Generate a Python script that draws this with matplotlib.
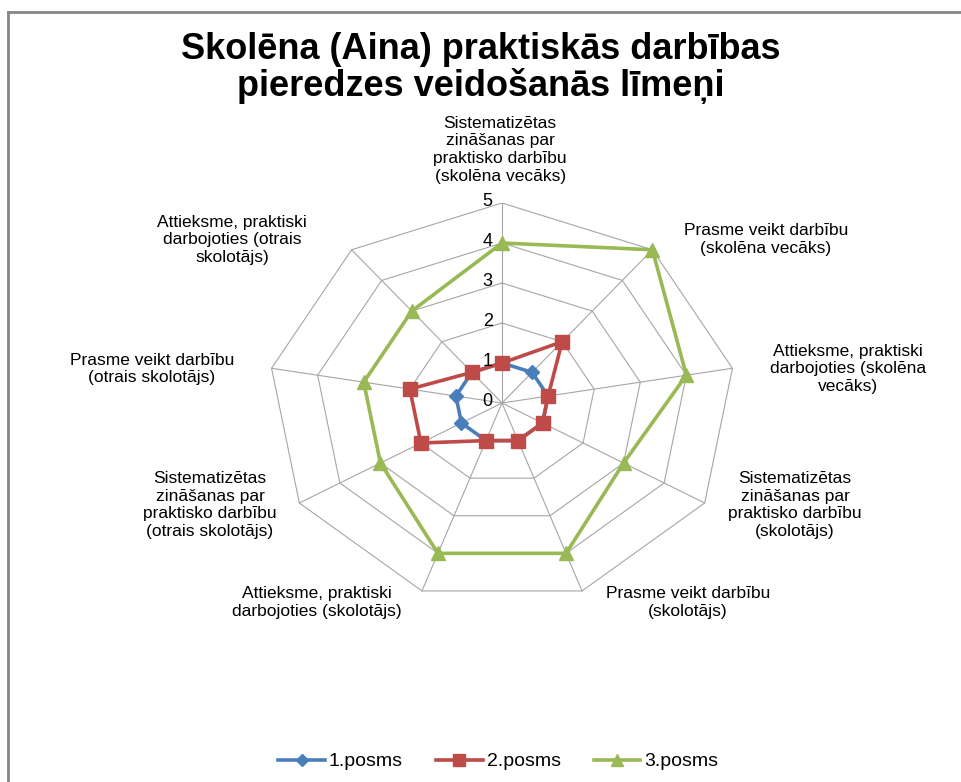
import numpy as np
import matplotlib
matplotlib.use("Agg")
import matplotlib.pyplot as plt
from matplotlib.lines import Line2D

plt.rcParams['font.family'] = ['Liberation Sans', 'DejaVu Sans']

# data
categories = [
    "Sistematizētas\nzināšanas par\npraktisko darbību\n(skolēna vecāks)",
    "Prasme veikt darbību\n(skolēna vecāks)",
    "Attieksme, praktiski\ndarbojoties (skolēna\nvecāks)",
    "Sistematizētas\nzināšanas par\npraktisko darbību\n(skolotājs)",
    "Prasme veikt darbību\n(skolotājs)",
    "Attieksme, praktiski\ndarbojoties (skolotājs)",
    "Sistematizētas\nzināšanas par\npraktisko darbību\n(otrais skolotājs)",
    "Prasme veikt darbību\n(otrais skolotājs)",
    "Attieksme, praktiski\ndarbojoties (otrais\nskolotājs)",
]
posms1 = [1, 1, 1, 1, 1, 1, 1, 1, 1]
posms2 = [1, 2, 1, 1, 1, 1, 2, 2, 1]
posms3 = [4, 5, 4, 3, 4, 4, 3, 3, 3]
series_names = ["1.posms", "2.posms", "3.posms"]
ticks = [0, 1, 2, 3, 4, 5]

# label anchor positions (layout, in axis units)
label_pos = [(-0.04, 6.33), (5.64, 4.08), (7.39, 0.85), (6.26, -2.55), (3.97, -4.98),
             (-3.95, -4.98), (-6.24, -2.55), (-7.48, 0.85), (-5.77, 4.08)]

n = len(categories)
theta = np.arange(n) * 2 * np.pi / n


def xy(vals):
    v = np.array(list(vals) + [vals[0]], dtype=float)
    t = np.append(theta, theta[0])
    return v * np.sin(t), v * np.cos(t)


fig = plt.figure(figsize=(9.62, 7.82), dpi=100)
ax = fig.add_axes([268 / 962, 1 - 603 / 782, 468 / 962, 400 / 782])
ax.set_xlim(-5, 5)
ax.set_ylim(-5, 5)
ax.axis('off')

grid_c = '#a6a6a6'
for r in ticks[1:]:
    gx, gy = xy([r] * n)
    ax.plot(gx, gy, color=grid_c, lw=0.8, zorder=1)
for t in theta:
    ax.plot([0, 5 * np.sin(t)], [0, 5 * np.cos(t)], color=grid_c, lw=0.8, zorder=1)

for r in ticks:
    ax.text(-0.2, r + 0.05, str(r), ha='right', va='center', fontsize=13, zorder=5)

styles = [('#4a7ebb', 'D', 7), ('#be4b48', 's', 9.5), ('#98b954', '^', 10)]
for vals, (c, m, ms), name in zip([posms1, posms2, posms3], styles, series_names):
    px, py = xy(vals)
    ax.plot(px, py, color=c, lw=2.6, marker=m, markersize=ms, markevery=list(range(n)),
            clip_on=False, zorder=3, label=name)

for lab, (lx, ly) in zip(categories, label_pos):
    ax.text(lx, ly, lab, ha='center', va='center', fontsize=12.5, linespacing=1.22)

fig.text(0.5, 0.913, "Skolēna (Aina) praktiskās darbības\npieredzes veidošanās līmeņi",
         ha='center', va='center', fontsize=26, fontweight='bold', linespacing=1.05)

handles = [Line2D([], [], color=c, lw=2.6, marker=m, markersize=ms * 0.9)
           for c, m, ms in styles]
fig.legend(handles, series_names, loc='center', bbox_to_anchor=(0.518, 0.026), ncol=3,
           frameon=False, fontsize=14, handlelength=2.4, columnspacing=1.7,
           handletextpad=0.2)

# chart area frame (left and top edges visible)
fig.add_artist(Line2D([8 / 962, 8 / 962], [0, 1 - 12 / 782], color='#868686', lw=2,
                      transform=fig.transFigure))
fig.add_artist(Line2D([8 / 962, 1], [1 - 12 / 782, 1 - 12 / 782], color='#868686', lw=2,
                      transform=fig.transFigure))

fig.savefig("out.png", dpi=100)
